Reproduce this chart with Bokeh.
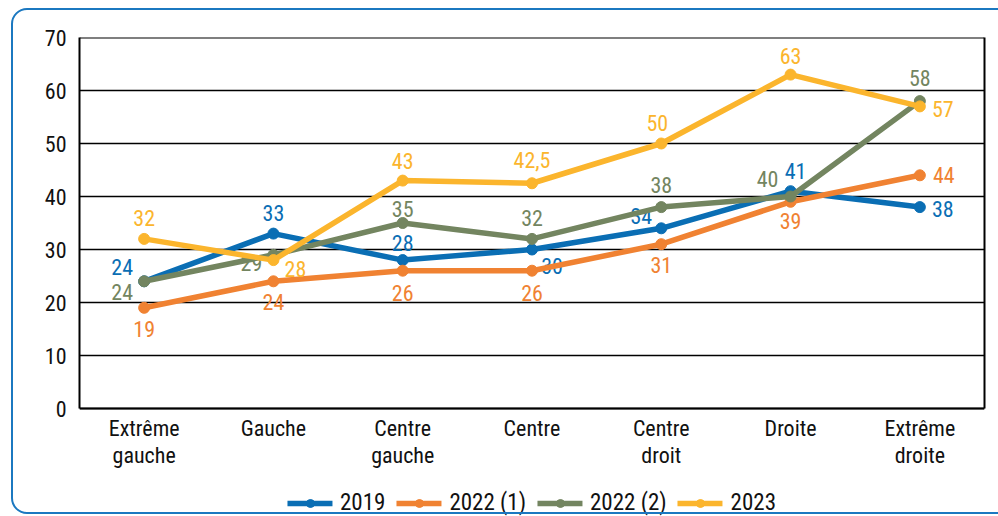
from bokeh.plotting import figure
from bokeh.models import (ColumnDataSource, FactorRange, FixedTicker, Legend, LegendItem, Range1d,
                          InlineStyleSheet, LinearAxis, Span)
from bokeh.core.properties import value
from bokeh.embed import file_html
from bokeh.resources import INLINE

categories = ["Extrême\ngauche", "Gauche", "Centre\ngauche", "Centre", "Centre\ndroit", "Droite", "Extrême\ndroite"]
series_names = ["2019", "2022 (1)", "2022 (2)", "2023"]
values_2019 = [24, 33, 28, 30, 34, 41, 38]
values_2022_1 = [19, 24, 26, 26, 31, 39, 44]
values_2022_2 = [24, 29, 35, 32, 38, 40, 58]
values_2023 = [32, 28, 43, 42.5, 50, 63, 57]
y_ticks = [0, 10, 20, 30, 40, 50, 60, 70]

# styling (label placement per point: dx, dy in screen pixels)
colors = ["#0a6eb4", "#f08232", "#738560", "#fbb52d"]
placements = [
    [(-22, -14), (0, -21), (0, -17), (20, 16), (-20, -12), (5, -20), (23, 2)],
    [(0, 21), (0, 21), (0, 22), (0, 22), (0, 21), (0, 19), (24, 0)],
    [(-22, 11), (-22, 8), (0, -14), (0, -21), (0, -22), (-23, -18), (0, -23)],
    [(0, -21), (22, 9), (0, -20), (0, -23), (-4, -21), (0, -19), (23, 3)],
]
FONT = "'Liberation Sans Narrow', 'Roboto Condensed', 'DejaVu Sans Condensed', sans-serif"

all_values = [values_2019, values_2022_1, values_2022_2, values_2023]
Y_MIN, Y_MAX = 0, 70
PLOT_PX, BELOW_PX = 371, 108   # height of value area and of the area below it (px)

box_css = InlineStyleSheet(css="""
:host::after {
  content: "";
  position: absolute;
  left: 11px; top: 8px; right: -30px; bottom: 2px;
  border: 2px solid #1b78c0;
  border-radius: 16px;
  pointer-events: none;
  z-index: 10;
}
""")

p = figure(
    x_range=FactorRange(*categories, range_padding=0),
    y_range=Range1d(Y_MIN - (Y_MAX - Y_MIN) * BELOW_PX / PLOT_PX, Y_MAX),
    width=998, height=516,
    frame_width=905, frame_height=PLOT_PX + BELOW_PX,
    min_border_left=79, min_border_top=37, min_border_right=14, min_border_bottom=0,
    output_backend="svg", toolbar_location=None,
)
p.stylesheets = [box_css]
p.x_range.factor_padding = 0
p.border_fill_color = "white"
p.background_fill_color = "white"
p.outline_line_color = None

p.xgrid.grid_line_color = None
p.ygrid.grid_line_color = "black"
p.ygrid.grid_line_width = 1.3
p.ygrid.ticker = FixedTicker(ticks=y_ticks)

left_axis = p.yaxis[0]
x_axis = p.xaxis[0]

left_axis.ticker = FixedTicker(ticks=y_ticks)
left_axis.bounds = (Y_MIN, Y_MAX)
left_axis.axis_line_color = "black"
left_axis.axis_line_width = 2
left_axis.major_tick_line_color = None
left_axis.minor_tick_line_color = None
left_axis.major_tick_out = 0
left_axis.major_label_standoff = 13

x_axis.fixed_location = Y_MIN
x_axis.axis_line_color = "black"
x_axis.axis_line_width = 2
x_axis.major_tick_line_color = None
x_axis.major_tick_out = 0
x_axis.major_label_standoff = 7
x_axis.major_label_text_line_height = 1.1
for ax in (x_axis, left_axis):
    ax.major_label_text_font = FONT
    ax.major_label_text_font_size = "22px"
    ax.major_label_text_color = "#111111"

right_axis = LinearAxis(ticker=FixedTicker(ticks=y_ticks), bounds=(Y_MIN, Y_MAX),
                        axis_line_color="black", axis_line_width=2,
                        major_tick_line_color=None, minor_tick_line_color=None,
                        major_label_text_font_size="0px", major_label_text_alpha=0,
                        major_tick_out=0, major_label_standoff=0)
p.add_layout(right_axis, "right")
p.add_layout(Span(location=Y_MAX, dimension="width", line_color="black", line_width=2))

items = []
for name, vals, col, plc in zip(series_names, all_values, colors, placements):
    src = ColumnDataSource(dict(
        x=categories, y=vals,
        lbl=[("%g" % v).replace(".", ",") for v in vals],
        dx=[d[0] for d in plc], dy=[d[1] for d in plc],
    ))
    r1 = p.line("x", "y", source=src, line_color=col, line_width=5.5, line_cap="round", line_join="round")
    r2 = p.scatter("x", "y", source=src, size=11, fill_color=col, line_color=col)
    p.text("x", "y", text="lbl", source=src, x_offset="dx", y_offset="dy",
           text_color=col, text_font=value(FONT), text_font_size="22px",
           text_align="center", text_baseline="middle")
    items.append(LegendItem(label=name, renderers=[r1, r2]))

legend = Legend(items=items, orientation="horizontal", location="bottom_center",
                label_text_font=FONT, label_text_font_size="23px", label_text_color="#111111",
                glyph_width=45, glyph_height=20, label_height=20, label_standoff=8, spacing=11,
                padding=0, margin=0, border_line_color=None, background_fill_color=None)
p.add_layout(legend, "center")

open("out.html", "w").write(file_html(p, INLINE))
